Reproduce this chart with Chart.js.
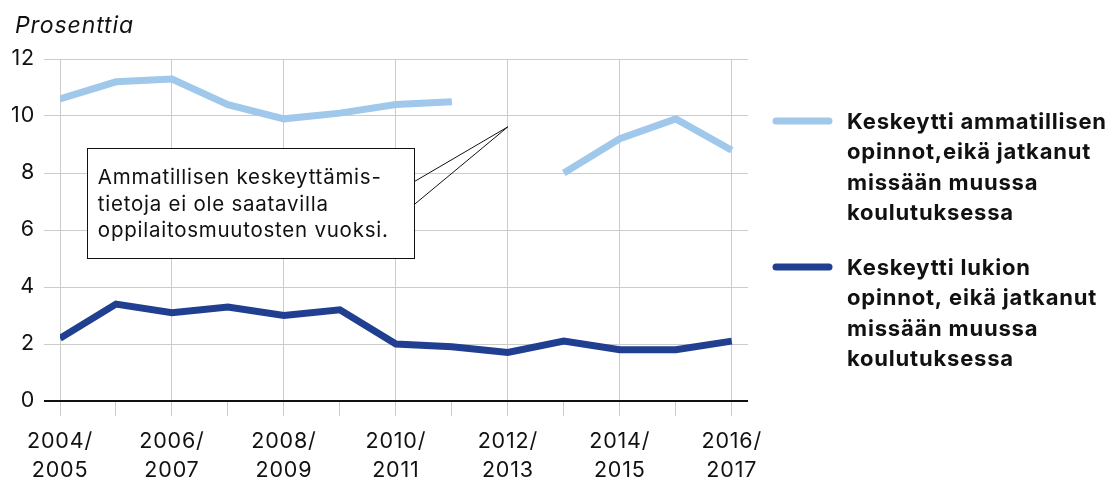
<!DOCTYPE html>
<html>
<head>
<meta charset="utf-8">
<script src="https://cdn.jsdelivr.net/npm/chart.js@4/dist/chart.umd.min.js"></script>
<style>
html,body{margin:0;padding:0;background:#fff;}
#wrap{position:relative;width:1112px;height:480px;}
</style>
</head>
<body>
<div id="wrap"><canvas id="c" width="1112" height="480"></canvas></div>
<script>
const categories = ['2004/2005','2005/2006','2006/2007','2007/2008','2008/2009','2009/2010','2010/2011','2011/2012','2012/2013','2013/2014','2014/2015','2015/2016','2016/2017'];
const vocational = [10.6, 11.2, 11.3, 10.4, 9.9, 10.1, 10.4, 10.5, null, 8.0, 9.2, 9.9, 8.8];
const upperSecondary = [2.2, 3.4, 3.1, 3.3, 3.0, 3.2, 2.0, 1.9, 1.7, 2.1, 1.8, 1.8, 2.1];
const yTicks = [0, 2, 4, 6, 8, 10, 12];
const seriesLabels = [
  ['Keskeytti ammatillisen', 'opinnot,eikä jatkanut', 'missään muussa', 'koulutuksessa'],
  ['Keskeytti lukion', 'opinnot, eikä jatkanut', 'missään muussa', 'koulutuksessa']
];
const yTitle = 'Prosenttia';
const noteLines = ['Ammatillisen keskeyttämis-', 'tietoja ei ole saatavilla', 'oppilaitosmuutosten vuoksi.'];

const FONT = 'Inter, "Noto Sans", Arial, sans-serif';
const LIGHT = '#a0c8eb';
const DARK = '#213f91';
const GRID = '#cccccc';

const toPoints = arr => arr.map((v, i) => ({x: i, y: v}));

const spacing = {
  id: 'spacing',
  beforeDraw(chart) { chart.ctx.letterSpacing = '0.8px'; }
};

const customDraw = {
  id: 'customDraw',
  afterDraw(chart) {
    const ctx = chart.ctx;
    const xs = chart.scales.x, ys = chart.scales.y;
    const area = chart.chartArea;
    ctx.save();
    // y title
    ctx.fillStyle = '#111';
    ctx.letterSpacing = '0.9px';
    ctx.font = 'italic 23px ' + FONT;
    ctx.textBaseline = 'middle';
    ctx.textAlign = 'left';
    ctx.fillText(yTitle, 15, 26);

    // annotation box
    const bx0 = xs.getPixelForValue(0.48), bx1 = xs.getPixelForValue(6.32);
    const by0 = ys.getPixelForValue(8.88), by1 = ys.getPixelForValue(5.02);
    const tipX = xs.getPixelForValue(8), tipY = ys.getPixelForValue(9.62);
    ctx.strokeStyle = '#111';
    ctx.lineWidth = 1;
    ctx.beginPath();
    ctx.moveTo(bx1, by0 + 34);
    ctx.lineTo(tipX, tipY);
    ctx.lineTo(bx1, by0 + 57);
    ctx.stroke();
    ctx.fillStyle = '#fff';
    ctx.fillRect(bx0, by0, bx1 - bx0, by1 - by0);
    ctx.strokeRect(Math.round(bx0) + 0.5, Math.round(by0) + 0.5, Math.round(bx1 - bx0), Math.round(by1 - by0));
    ctx.fillStyle = '#111';
    ctx.letterSpacing = '0.75px';
    ctx.font = '20.5px ' + FONT;
    noteLines.forEach((t, i) => ctx.fillText(t, bx0 + 11, by0 + 30 + i * 26.5));

    // legend
    const lx = area.right + 25;
    let ly = 122;
    ctx.letterSpacing = '0.8px';
    chart.data.datasets.forEach((ds, di) => {
      ctx.strokeStyle = ds.borderColor;
      ctx.lineWidth = 7;
      ctx.lineCap = 'round';
      ctx.beginPath();
      ctx.moveTo(lx + 3, ly - 1);
      ctx.lineTo(lx + 56, ly - 1);
      ctx.stroke();
      ctx.fillStyle = '#111';
      ctx.font = 'bold 22px ' + FONT;
      seriesLabels[di].forEach((t, i) => ctx.fillText(t, lx + 74, ly + i * 30.5));
      ly += seriesLabels[di].length * 30.5 + 24;
    });
    ctx.restore();
  }
};

new Chart(document.getElementById('c'), {
  type: 'line',
  data: {
    datasets: [
      {label: seriesLabels[0].join(' '), data: toPoints(vocational), borderColor: LIGHT, borderWidth: 7, pointRadius: 0, spanGaps: false, tension: 0},
      {label: seriesLabels[1].join(' '), data: toPoints(upperSecondary), borderColor: DARK, borderWidth: 7, pointRadius: 0, spanGaps: false, tension: 0}
    ]
  },
  options: {
    responsive: false,
    animation: false,
    devicePixelRatio: 1,
    layout: {padding: {top: 59, right: 364, left: 0, bottom: 0}},
    plugins: {legend: {display: false}, tooltip: {enabled: false}, title: {display: false}},
    scales: {
      x: {
        type: 'linear',
        min: 0,
        max: 12.29,
        border: {display: false},
        afterFit(s) { s.height = 79; },
        grid: {
          color: c => (c.tick && c.tick.value % 2 === 0) ? GRID : 'rgba(0,0,0,0)',
          tickColor: GRID,
          lineWidth: 1,
          tickLength: 15,
          drawTicks: true
        },
        ticks: {
          stepSize: 1,
          autoSkip: false,
          includeBounds: false,
          maxRotation: 0,
          minRotation: 0,
          padding: 11,
          color: '#111',
          font: {family: FONT, size: 21.5, lineHeight: 1.35},
          callback: v => {
            const i = Math.round(v);
            if (i % 2 !== 0 || !categories[i]) return '';
            const p = categories[i].split('/');
            return [p[0] + '/', p[1]];
          }
        }
      },
      y: {
        min: 0,
        max: 12,
        border: {display: false},
        afterFit(s) { s.width = 60; },
        afterBuildTicks(s) { s.ticks = yTicks.map(v => ({value: v})); },
        grid: {
          color: c => (c.tick && c.tick.value === 0) ? '#111' : GRID,
          tickColor: c => (c.tick && c.tick.value === 0) ? '#111' : GRID,
          lineWidth: c => (c.tick && c.tick.value === 0) ? 2 : 1,
          tickLength: 16,
          tickWidth: c => (c.tick && c.tick.value === 0) ? 2 : 1
        },
        ticks: {
          padding: 9,
          color: '#111',
          font: {family: FONT, size: 21.5}
        }
      }
    }
  },
  plugins: [spacing, customDraw]
});
</script>
</body>
</html>
